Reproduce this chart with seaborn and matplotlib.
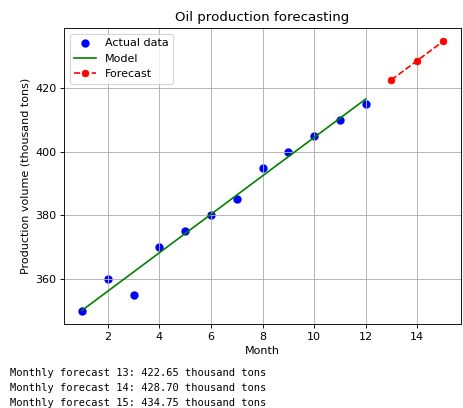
import numpy as np
import seaborn as sns
import matplotlib.pyplot as plt
import pandas as pd

# Observed monthly production (thousand tons)
months = [1, 2, 3, 4, 5, 6, 7, 8, 9, 10, 11, 12]
production = [350, 360, 355, 370, 375, 380, 385, 395, 400, 405, 410, 415]

# Fitted model line (ends of the fitted segment)
model_months = [1, 12]
model_values = [350.06, 416.60]

# Forecast
forecast_months = [13, 14, 15]
forecast_values = [422.65, 428.70, 434.75]

df = pd.DataFrame({'month': months, 'production': production})
df_model = pd.DataFrame({'month': model_months, 'production': model_values})
df_fc = pd.DataFrame({'month': forecast_months, 'production': forecast_values})

DPI = 80
fig = plt.figure(figsize=(463 / DPI, 408 / DPI), dpi=DPI)
ax = fig.add_axes([64 / 463, 1 - 324 / 408, 397 / 463, 296 / 408])

sns.scatterplot(data=df, x='month', y='production', ax=ax, color='blue',
                edgecolor='blue', linewidth=1.5, s=36, label='Actual data')
sns.lineplot(data=df_model, x='month', y='production', ax=ax, color='green',
             linewidth=1.5, label='Model')
sns.lineplot(data=df_fc, x='month', y='production', ax=ax, color='red',
             linestyle='--', marker='o', markersize=6, markeredgecolor='red',
             linewidth=1.5, label='Forecast')

ax.set_title('Oil production forecasting')
ax.set_xlabel('Month')
ax.set_ylabel('Production volume (thousand tons)')
ax.grid(True)
ax.legend(loc='upper left')

# Printed output shown under the chart
for i, (m, v) in enumerate(zip(forecast_months, forecast_values)):
    fig.text(10 / 463, 1 - (373 + 15 * i) / 408,
             f'Monthly forecast {m}: {v:.2f} thousand tons',
             family='DejaVu Sans Mono', fontsize=9.3, va='center', ha='left')

fig.savefig('out.png', dpi=DPI)
